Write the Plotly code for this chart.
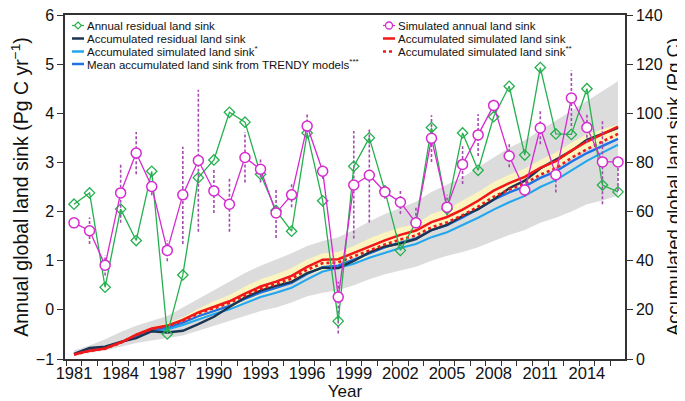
import plotly.graph_objects as go

years = list(range(1981, 2017))

# Annual residual land sink (Pg C / yr)
annual_residual = [2.15, 2.38, 0.46, 2.05, 1.41, 2.82, -0.49, 0.71, 2.69, 3.05,
                   4.02, 3.82, 2.76, 2.02, 1.60, 3.60, 2.22, -0.23, 2.92, 3.50,
                   2.42, 1.21, 1.78, 3.71, 2.05, 3.60, 2.84, 3.93, 4.55, 3.15,
                   4.93, 3.58, 3.57, 4.50, 2.54, 2.40]

# Simulated annual land sink (Pg C / yr)
annual_sim = [1.77, 1.61, 0.91, 2.38, 3.19, 2.51, 1.21, 2.34, 3.04, 2.42,
              2.15, 3.10, 2.86, 1.97, 2.34, 3.74, 2.82, 0.26, 2.54, 2.74,
              2.40, 2.19, 1.77, 3.49, 2.09, 2.96, 3.56, 4.16, 3.13, 2.44,
              3.70, 2.75, 4.31, 3.71, 3.01, 3.01]

# Spread of simulated annual sink (dashed bars)
sim_low = [None, 1.34, 0.70, 1.77, 2.76, 2.33, 0.99, 1.34, 1.59, 1.97,
           1.59, 2.59, 2.59, 1.46, 2.09, 3.61, 2.67, -0.48, 1.45, 1.78,
           2.26, 1.95, 1.71, 3.01, 1.92, 2.56, 3.13, 4.01, 2.90, 2.30,
           3.37, 2.39, 3.74, 3.40, 2.15, 2.42]
sim_high = [None, 1.88, 1.11, 2.98, 3.62, 2.62, 1.41, 3.32, 4.48, 2.86,
            2.69, 3.62, 3.10, 2.47, 2.58, 3.98, 2.94, 0.57, 3.64, 3.71,
            2.54, 2.42, 2.11, 3.96, 2.34, 3.33, 3.98, 4.29, 3.37, 2.55,
            4.04, 2.90, 4.87, 4.00, 3.86, 3.01]

# Accumulated series (Pg C)
accum_residual = [2.1, 4.5, 5.0, 7.0, 8.5, 11.3, 10.8, 11.5, 14.2, 17.2,
                  21.2, 25.0, 27.8, 29.8, 31.4, 35.0, 37.2, 37.0, 39.9, 43.4,
                  45.8, 47.0, 48.8, 52.5, 54.6, 58.2, 61.0, 64.9, 69.5, 72.6,
                  77.5, 81.1, 84.7, 89.2, 91.7, 94.1]
accum_sim = [1.8, 3.4, 4.3, 6.7, 9.9, 12.4, 13.6, 15.9, 19.0, 21.4,
             23.5, 26.6, 29.5, 31.5, 33.8, 37.5, 40.4, 40.6, 43.2, 45.9,
             48.3, 50.5, 52.3, 55.7, 57.8, 60.8, 64.4, 68.5, 71.6, 74.1,
             77.8, 80.5, 84.8, 88.5, 91.6, 94.6]
accum_sim2 = [1.8, 3.3, 4.2, 6.6, 9.7, 12.2, 13.3, 15.5, 18.5, 20.8,
              22.8, 25.8, 28.6, 30.5, 32.7, 36.3, 39.0, 39.3, 41.7, 44.3,
              46.6, 48.6, 50.3, 53.6, 55.6, 58.5, 62.0, 66.0, 69.0, 71.4,
              75.0, 77.6, 81.8, 85.4, 88.5, 91.6]
accum_sim1 = [1.9, 3.5, 4.5, 6.6, 9.0, 11.2, 12.0, 13.8, 16.2, 18.3,
              20.2, 22.8, 25.2, 27.0, 29.0, 32.4, 35.6, 37.0, 38.8, 41.2,
              43.3, 45.2, 46.8, 49.6, 51.6, 54.5, 57.5, 60.8, 63.8, 66.4,
              70.0, 72.8, 76.8, 80.6, 84.0, 87.2]
trendy_mean = [1.9, 3.6, 4.6, 6.8, 9.4, 11.8, 12.8, 14.8, 17.4, 19.6,
               21.6, 24.4, 27.0, 28.9, 31.0, 34.6, 37.4, 38.0, 40.4, 43.0,
               45.4, 47.4, 49.1, 52.4, 54.5, 57.6, 61.0, 64.8, 67.8, 70.2,
               73.7, 76.3, 80.3, 83.8, 86.8, 89.6]
trendy_low = [1.5, 2.5, 3.5, 5.0, 6.5, 7.5, 8.5, 9.6, 11.5, 13.5,
              15.5, 17.5, 19.5, 21.0, 23.0, 25.5, 27.0, 28.0, 30.0, 32.5,
              34.5, 36.0, 37.5, 40.0, 42.0, 43.5, 45.5, 48.0, 50.5, 52.5,
              55.5, 57.5, 60.0, 63.0, 64.5, 66.5]
trendy_high = [3.5, 5.5, 8.0, 11.0, 13.5, 15.5, 17.5, 21.0, 24.5, 28.0,
               31.5, 35.0, 38.0, 40.5, 43.0, 46.0, 48.0, 49.5, 52.5, 56.0,
               59.0, 61.5, 64.0, 68.0, 71.0, 74.0, 78.0, 82.0, 86.0, 89.0,
               93.0, 97.0, 101.0, 105.0, 109.0, 113.0]
sim_band_low = [2.0, 3.2, 4.0, 6.0, 8.8, 11.0, 12.2, 14.0, 16.5, 18.5,
                20.5, 23.5, 26.0, 28.0, 30.5, 34.0, 36.0, 36.5, 39.0, 42.0,
                44.5, 46.5, 48.5, 52.0, 54.5, 57.5, 61.0, 65.0, 68.0, 71.0,
                74.5, 77.5, 82.0, 85.5, 88.0, 90.0]
sim_band_high = [2.0, 3.6, 4.8, 7.4, 10.5, 13.0, 14.5, 17.0, 20.5, 23.5,
                 26.0, 29.5, 32.5, 34.5, 37.0, 40.5, 43.0, 43.5, 46.0, 49.0,
                 51.5, 53.5, 55.0, 59.0, 61.0, 64.5, 68.0, 72.0, 75.0, 77.5,
                 81.0, 84.0, 88.0, 91.5, 93.5, 95.5]

x_tick_years = list(range(1981, 2015, 3))
left_ticks = [-1, 0, 1, 2, 3, 4, 5, 6]
right_ticks = [0, 20, 40, 60, 80, 100, 120, 140]

GREEN = "#25b04f"
MAGENTA = "#d62ad0"
BAR = "#a64bb0"
NAVY = "#1c3553"
LIGHTBLUE = "#22a7ec"
BLUE = "#1f72e6"
RED = "#f01818"
GRAY = "#dcdcdc"
YELLOW = "#fcf5bf"
AXIS = "#333333"

fig = go.Figure()

# Bands (accumulated axis = base axis "y", drawn underneath)
fig.add_trace(go.Scatter(x=years, y=trendy_low, yaxis="y", mode="lines",
                         line=dict(width=0), hoverinfo="skip", showlegend=False))
fig.add_trace(go.Scatter(x=years, y=trendy_high, yaxis="y", mode="lines",
                         line=dict(width=0), fill="tonexty", fillcolor=GRAY,
                         hoverinfo="skip", showlegend=False))
fig.add_trace(go.Scatter(x=years, y=sim_band_low, yaxis="y", mode="lines",
                         line=dict(width=0), hoverinfo="skip", showlegend=False))
fig.add_trace(go.Scatter(x=years, y=sim_band_high, yaxis="y", mode="lines",
                         line=dict(width=0), fill="tonexty", fillcolor=YELLOW,
                         hoverinfo="skip", showlegend=False))

# Accumulated lines
fig.add_trace(go.Scatter(x=years, y=accum_sim1, yaxis="y", mode="lines",
                         line=dict(color=LIGHTBLUE, width=2.1), showlegend=False))
fig.add_trace(go.Scatter(x=years, y=trendy_mean, yaxis="y", mode="lines",
                         line=dict(color=BLUE, width=2.3), showlegend=False))
fig.add_trace(go.Scatter(x=years, y=accum_residual, yaxis="y", mode="lines",
                         line=dict(color=NAVY, width=2.4), showlegend=False))
fig.add_trace(go.Scatter(x=years, y=accum_sim, yaxis="y", mode="lines",
                         line=dict(color=RED, width=2.5), showlegend=False))
fig.add_trace(go.Scatter(x=years, y=accum_sim2, yaxis="y", mode="lines",
                         line=dict(color=RED, width=2.6, dash="dot"), showlegend=False))

# Dashed spread bars for simulated annual sink (annual axis = overlay "y2")
bx, by = [], []
for yr, lo, hi in zip(years, sim_low, sim_high):
    if lo is None:
        continue
    bx += [yr, yr, None]
    by += [lo, hi, None]
fig.add_trace(go.Scatter(x=bx, y=by, yaxis="y2", mode="lines",
                         line=dict(color=BAR, width=1.6, dash="3px,2px"),
                         hoverinfo="skip", showlegend=False))

# Annual series
fig.add_trace(go.Scatter(x=years, y=annual_residual, yaxis="y2", mode="lines+markers",
                         line=dict(color=GREEN, width=1.3),
                         marker=dict(symbol="diamond-open", size=8, color=GREEN,
                                     line=dict(width=1.3)),
                         showlegend=False))
fig.add_trace(go.Scatter(x=years, y=annual_sim, yaxis="y2", mode="lines+markers",
                         line=dict(color=MAGENTA, width=1.3),
                         marker=dict(symbol="circle", size=10, color="white",
                                     line=dict(color=MAGENTA, width=1.5)),
                         showlegend=False))

# ---- Legend drawn as decoration (shapes + annotations in paper space) ----
L, R_, T, B = 57, 617, 7, 351
def px(xp):
    return (xp - L) / (R_ - L)
def py(yp):
    return (B - yp) / (B - T)

shapes = []
annotations = []
legend_items = [
    (70, 17.5, "diamond", GREEN, "Annual residual land sink"),
    (70, 30.5, "line", NAVY, "Accumulated residual land sink"),
    (70, 43.5, "line", LIGHTBLUE, "Accumulated simulated land sink<sup>*</sup>"),
    (70, 56.0, "line", BLUE, "Mean accumulated land sink from TRENDY models<sup>***</sup>"),
    (381, 17.5, "circle", MAGENTA, "Simulated annual land sink"),
    (381, 30.5, "line", RED, "Accumulated simulated land sink"),
    (381, 43.5, "dot", RED, "Accumulated simulated land sink<sup>**</sup>"),
]
for cx, cy, kind, col, txt in legend_items:
    xa, ya = px(cx), py(cy)
    if kind in ("diamond", "circle"):
        shapes.append(dict(type="line", xref="paper", yref="paper",
                           xsizemode="pixel", ysizemode="pixel", xanchor=xa, yanchor=ya,
                           x0=-6, x1=6, y0=0, y1=0, line=dict(color=col, width=1.2)))
        if kind == "diamond":
            shapes.append(dict(type="path", xref="paper", yref="paper",
                               xsizemode="pixel", ysizemode="pixel", xanchor=xa, yanchor=ya,
                               path="M 0 3.5 L 3.5 0 L 0 -3.5 L -3.5 0 Z",
                               fillcolor="white", line=dict(color=col, width=1.2)))
        else:
            shapes.append(dict(type="circle", xref="paper", yref="paper",
                               xsizemode="pixel", ysizemode="pixel", xanchor=xa, yanchor=ya,
                               x0=-3.5, x1=3.5, y0=-3.5, y1=3.5,
                               fillcolor="white", line=dict(color=col, width=1.3)))
    elif kind == "line":
        shapes.append(dict(type="line", xref="paper", yref="paper",
                           xsizemode="pixel", ysizemode="pixel", xanchor=xa, yanchor=ya,
                           x0=-6, x1=6, y0=0, y1=0, line=dict(color=col, width=2.5)))
    else:
        shapes.append(dict(type="line", xref="paper", yref="paper",
                           xsizemode="pixel", ysizemode="pixel", xanchor=xa, yanchor=ya,
                           x0=-6, x1=6, y0=0, y1=0, line=dict(color=col, width=2.5, dash="dot")))
    annotations.append(dict(x=px(cx + 8), y=ya, xref="paper", yref="paper",
                            text=txt, showarrow=False, xanchor="left", yanchor="middle",
                            borderpad=0, font=dict(size=11.5, color="#111111")))

FONT = "Liberation Sans, Arial, Helvetica, sans-serif"

fig.update_layout(
    width=685, height=401,
    margin=dict(l=L, r=685 - R_, t=T, b=401 - B, autoexpand=False),
    paper_bgcolor="white", plot_bgcolor="white",
    font=dict(family=FONT, size=16, color="#111111"),
    showlegend=False,
    shapes=shapes,
    annotations=annotations,
    xaxis=dict(
        range=[1980.42, 2016.45], automargin=False,
        tickmode="array", tickvals=x_tick_years, ticktext=[str(v) for v in x_tick_years],
        ticks="", ticklen=0, showgrid=False, zeroline=False,
        showline=True, linecolor=AXIS, linewidth=1.5, mirror=True,
        tickfont=dict(size=16.5), ticklabelstandoff=-2,
        minor=dict(tick0=1981.5, dtick=1, ticks="outside", ticklen=5,
                   tickcolor=AXIS, tickwidth=1.2, showgrid=False),
        title=dict(text="Year", font=dict(size=17), standoff=2),
    ),
    yaxis=dict(
        range=[0, 140], tickmode="array", tickvals=right_ticks, automargin=False,
        ticktext=[str(v) for v in right_ticks], ticklabeloverflow="allow",
        side="right",
        ticks="outside", ticklen=6, tickcolor=AXIS, tickwidth=1.2,
        showgrid=False, zeroline=False,
        showline=True, linecolor=AXIS, linewidth=1.5,
        tickfont=dict(size=16),
        title=dict(text="Accumulated global land sink (Pg C)", font=dict(size=18.5), standoff=3),
    ),
    yaxis2=dict(
        range=[-1, 6], tickmode="array", tickvals=left_ticks, automargin=False,
        ticktext=[("\u2212" + str(-v)) if v < 0 else str(v) for v in left_ticks],
        ticklabeloverflow="allow",
        overlaying="y", side="left",
        ticks="outside", ticklen=6, tickcolor=AXIS, tickwidth=1.2,
        showgrid=False, zeroline=False,
        showline=True, linecolor=AXIS, linewidth=1.5,
        tickfont=dict(size=16),
        title=dict(text="Annual global land sink (Pg C yr<sup>\u22121</sup>)",
                   font=dict(size=19.5), standoff=2),
    ),
)

fig.write_html("out.html")
